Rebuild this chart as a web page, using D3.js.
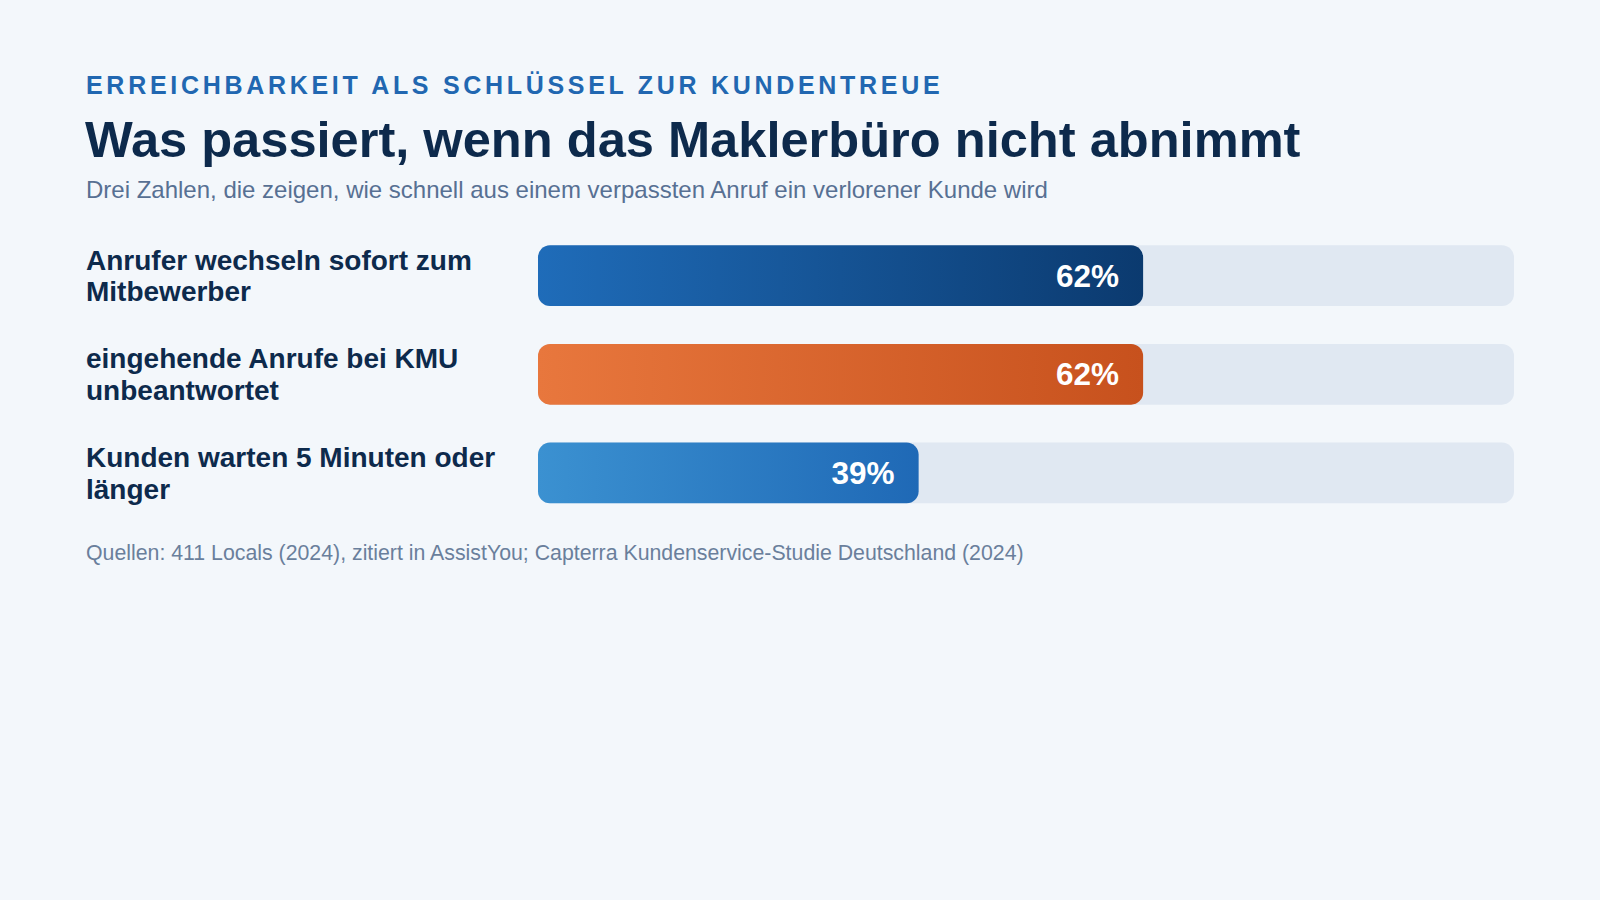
<!DOCTYPE html>
<html>
<head>
<meta charset="utf-8">
<script src="https://cdn.jsdelivr.net/npm/d3@7"></script>
<style>
  html, body { margin: 0; padding: 0; background: #f3f7fb; }
  svg { display: block; font-family: "Liberation Sans", Arial, Helvetica, sans-serif; }
</style>
</head>
<body>
<div id="chart"></div>
<script>
// chart data
var categories = ['Anrufer wechseln sofort zum Mitbewerber', 'eingehende Anrufe bei KMU unbeantwortet', 'Kunden warten 5 Minuten oder länger'];
var values = [62, 62, 39];
var barColors = [['#1f6cb9', '#0b3a6f'], ['#e8773d', '#c7511d'], ['#3b91d1', '#1f69b6']];

var eyebrow = 'ERREICHBARKEIT ALS SCHLÜSSEL ZUR KUNDENTREUE';
var title = 'Was passiert, wenn das Maklerbüro nicht abnimmt';
var subtitle = 'Drei Zahlen, die zeigen, wie schnell aus einem verpassten Anruf ein verlorener Kunde wird';
var source = 'Quellen: 411 Locals (2024), zitiert in AssistYou; Capterra Kundenservice-Studie Deutschland (2024)';

var width = 1600, height = 900;
var left = 86, barX = 538, barW = 976;

var svg = d3.select('#chart').append('svg')
    .attr('width', width)
    .attr('height', height);

svg.append('rect')
    .attr('width', width)
    .attr('height', height)
    .attr('fill', '#f3f7fb');

// header
svg.append('text')
    .attr('x', left).attr('y', 93.5)
    .text(eyebrow)
    .attr('font-size', 25)
    .attr('font-weight', 'bold')
    .attr('letter-spacing', '3.7px')
    .attr('fill', '#2167b1');

svg.append('text')
    .attr('x', left - 1).attr('y', 157)
    .text(title)
    .attr('font-size', 50.6)
    .attr('font-weight', 'bold')
    .attr('fill', '#0d2a4c');

svg.append('text')
    .attr('x', left).attr('y', 198)
    .text(subtitle)
    .attr('font-size', 24)
    .attr('fill', '#577093');

// scales
var x = d3.scaleLinear().domain([0, 100]).range([0, barW]);
var y = d3.scaleBand().domain(categories).range([245.3, 503.3]).paddingInner(0.385).paddingOuter(0);

var defs = svg.append('defs');
barColors.forEach(function(c, i) {
    var g = defs.append('linearGradient').attr('id', 'grad' + i)
        .attr('x1', '0%').attr('x2', '100%').attr('y1', '0%').attr('y2', '0%');
    g.append('stop').attr('offset', '0%').attr('stop-color', c[0]);
    g.append('stop').attr('offset', '100%').attr('stop-color', c[1]);
});

var rows = svg.append('g').selectAll('g')
    .data(categories)
    .enter()
    .append('g');

// background track
rows.append('rect')
    .attr('x', barX)
    .attr('y', function(d) { return y(d); })
    .attr('width', x(100))
    .attr('height', y.bandwidth())
    .attr('rx', 12)
    .attr('fill', '#e0e8f2');

// value bar
rows.append('rect')
    .attr('x', barX)
    .attr('y', function(d) { return y(d); })
    .attr('width', function(d, i) { return x(values[i]); })
    .attr('height', y.bandwidth())
    .attr('rx', 12)
    .attr('fill', function(d, i) { return 'url(#grad' + i + ')'; });

rows.append('text')
    .attr('x', function(d, i) { return barX + x(values[i]) - 24; })
    .attr('y', function(d) { return y(d) + y.bandwidth() / 2 + 11; })
    .attr('text-anchor', 'end')
    .attr('font-size', 31.5)
    .attr('font-weight', 'bold')
    .attr('fill', '#ffffff')
    .text(function(d, i) { return values[i] + '%'; });

// category labels, wrapped to the label column
var labels = rows.append('text')
    .attr('x', left)
    .attr('font-size', 28)
    .attr('font-weight', 'bold')
    .attr('fill', '#0d2a4c');

labels.each(function(d) {
    var t = d3.select(this);
    var words = d.split(' ');
    var lines = [], line = [];
    var probe = t.append('tspan');
    words.forEach(function(w) {
        line.push(w);
        probe.text(line.join(' '));
        if (probe.node().getComputedTextLength() > 440 && line.length > 1) {
            line.pop();
            lines.push(line.join(' '));
            line = [w];
        }
    });
    lines.push(line.join(' '));
    probe.remove();
    var cy = y(d) + y.bandwidth() / 2;
    lines.forEach(function(l, k) {
        t.append('tspan')
            .attr('x', left)
            .attr('y', cy - 6 + k * 31.7)
            .text(l);
    });
});

// footer
svg.append('text')
    .attr('x', left).attr('y', 560)
    .text(source)
    .attr('font-size', 21.3)
    .attr('fill', '#6a7f9c');
</script>
</body>
</html>
